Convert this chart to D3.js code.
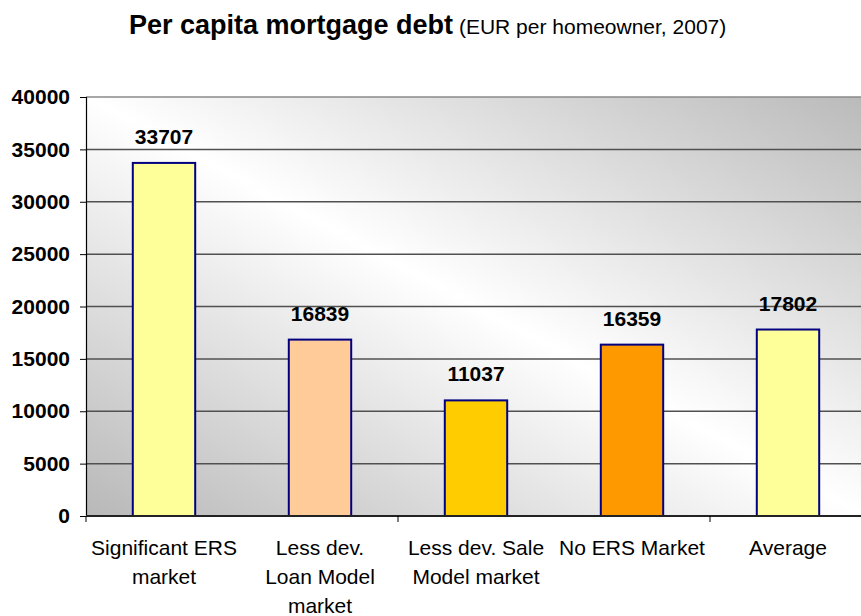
<!DOCTYPE html>
<html>
<head>
<meta charset="utf-8">
<script src="https://cdn.jsdelivr.net/npm/d3@7"></script>
<style>
  body { margin: 0; background: #fff; }
  svg { display: block; font-family: "Liberation Sans", Arial, sans-serif; }
</style>
</head>
<body>
<svg id="chart"></svg>
<script>
const width = 861;
const height = 616;

// Chart data
const categories = ["Significant ERS market", "Less dev. Loan Model market", "Less dev. Sale Model market", "No ERS Market", "Average"];
const categoryLines = [["Significant ERS", "market"], ["Less dev.", "Loan Model", "market"], ["Less dev. Sale", "Model market"], ["No ERS Market"], ["Average"]];
const values = [33707, 16839, 11037, 16359, 17802];
const barColors = ["#FFFF99", "#FFCC99", "#FFCC00", "#FF9900", "#FFFF99"];
const yTicks = [0, 5000, 10000, 15000, 20000, 25000, 30000, 35000, 40000];

const margin = { top: 97, right: -5, bottom: 100, left: 86 };

const svg = d3.select("#chart")
  .attr("width", width)
  .attr("height", height);

// Background gradient for the plot area
const defs = svg.append("defs");
const grad = defs.append("linearGradient")
  .attr("id", "bg")
  .attr("x1", 0).attr("y1", 1)
  .attr("x2", 1).attr("y2", 0);
grad.append("stop").attr("offset", "0%").attr("stop-color", "#b8b8b8");
grad.append("stop").attr("offset", "50%").attr("stop-color", "#ffffff");
grad.append("stop").attr("offset", "100%").attr("stop-color", "#bababa");

const x = d3.scaleBand()
  .domain(categories)
  .range([margin.left, width - margin.right])
  .paddingInner(0.6)
  .paddingOuter(0.3);

const y = d3.scaleLinear()
  .domain([0, 40000])
  .range([height - margin.bottom, margin.top]);

// Plot area
svg.append("rect")
  .attr("x", margin.left)
  .attr("y", y(40000))
  .attr("width", width - margin.right - margin.left)
  .attr("height", y(0) - y(40000))
  .attr("fill", "url(#bg)");

// Gridlines
svg.append("g")
  .selectAll("line")
  .data(yTicks.filter(d => d > 0))
  .enter().append("line")
  .attr("x1", margin.left)
  .attr("x2", width)
  .attr("y1", d => y(d))
  .attr("y2", d => y(d))
  .attr("stroke", d => d === 40000 ? "#8a8a8a" : "#505050")
  .attr("stroke-width", 1.5);

// Bars
svg.append("g")
  .selectAll("rect")
  .data(values)
  .enter().append("rect")
  .attr("x", (d, i) => x(categories[i]))
  .attr("y", d => y(d))
  .attr("width", x.bandwidth())
  .attr("height", d => y(0) - y(d))
  .attr("fill", (d, i) => barColors[i])
  .attr("stroke", "#000080")
  .attr("stroke-width", 2);

// Value labels
svg.append("g")
  .selectAll("text")
  .data(values)
  .enter().append("text")
  .attr("x", (d, i) => x(categories[i]) + x.bandwidth() / 2)
  .attr("y", d => y(d) - 19)
  .attr("text-anchor", "middle")
  .attr("font-size", 21)
  .attr("font-weight", "bold")
  .attr("fill", "#000")
  .text(d => d);

// Y axis
const yAxis = svg.append("g")
  .attr("transform", `translate(${margin.left},0)`)
  .call(d3.axisLeft(y).tickValues(yTicks).tickSize(6).tickPadding(10).tickFormat(d3.format("d")));
yAxis.select(".domain").attr("stroke", "#000").attr("stroke-width", 1.2);
yAxis.selectAll(".tick line").attr("stroke", "#000");
yAxis.selectAll("text")
  .attr("font-size", 21)
  .attr("font-weight", "bold")
  .attr("font-family", "Liberation Sans, Arial, sans-serif")
  .attr("fill", "#000");

// X axis baseline
svg.append("line")
  .attr("x1", margin.left)
  .attr("x2", width)
  .attr("y1", y(0))
  .attr("y2", y(0))
  .attr("stroke", "#222")
  .attr("stroke-width", 2);

// X tick marks every two categories
const step = x.step();
const boundaries = categories.map((c, i) => x(c) - (step - x.bandwidth()) / 2).filter((d, i) => i % 2 === 0);
svg.append("g")
  .selectAll("line")
  .data(boundaries)
  .enter().append("line")
  .attr("x1", d => d)
  .attr("x2", d => d)
  .attr("y1", y(0))
  .attr("y2", y(0) + 6)
  .attr("stroke", "#000");

// Category labels
const catLabels = svg.append("g")
  .selectAll("text")
  .data(categoryLines)
  .enter().append("text")
  .attr("x", (d, i) => x(categories[i]) + x.bandwidth() / 2)
  .attr("y", 555)
  .attr("text-anchor", "middle")
  .attr("font-size", 21)
  .attr("fill", "#000");
catLabels.selectAll("tspan")
  .data(d => d)
  .enter().append("tspan")
  .attr("x", function() { return d3.select(this.parentNode).attr("x"); })
  .attr("dy", (d, i) => i === 0 ? 0 : 29)
  .text(d => d);

// Title
const title = svg.append("text")
  .attr("x", 129)
  .attr("y", 34)
  .attr("fill", "#000");
title.append("tspan")
  .attr("font-size", 27)
  .attr("font-weight", "bold")
  .text("Per capita mortgage debt");
title.append("tspan")
  .attr("font-size", 21)
  .text(" (EUR per homeowner, 2007)");
</script>
</body>
</html>
